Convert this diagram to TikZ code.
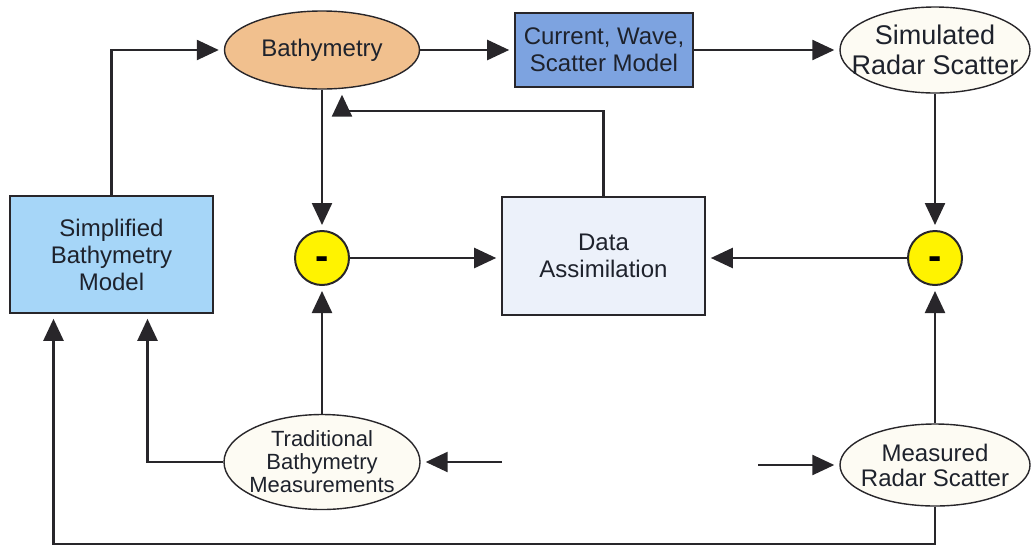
\documentclass[tikz,border=0pt]{standalone}
\usepackage{fontspec}
\setmainfont{Liberation Sans}
\usepackage{tikz}
\usetikzlibrary{positioning, arrows.meta, shapes.geometric, calc}
\definecolor{linec}{RGB}{40,38,42}
\definecolor{textc}{RGB}{30,34,44}
\definecolor{bathyorange}{RGB}{241,192,142}
\definecolor{cwsblue}{RGB}{125,163,224}
\definecolor{simpblue}{RGB}{166,214,248}
\definecolor{dablue}{RGB}{236,241,250}
\definecolor{ovalwhite}{RGB}{253,251,243}
\definecolor{minusyellow}{RGB}{255,243,0}

\begin{document}
\begin{tikzpicture}[x=1pt, y=-1pt,
    txt/.style={font=\fontsize{24}{27}\selectfont, align=center, text=textc},
    blk/.style={txt, draw=linec, line width=1.6pt, inner sep=0pt},
    oval/.style={txt, ellipse, draw=linec, line width=1.4pt, inner sep=-25pt, fill=ovalwhite},
    minus/.style={circle, draw=linec, line width=2pt, fill=minusyellow, minimum size=54pt, inner sep=0pt,
        text height=22pt, text depth=0pt, font=\fontsize{40}{40}\selectfont\bfseries},
    flow/.style={draw=linec, line width=2.4pt, -{Triangle[length=22pt, width=20pt]}, shorten >=5pt},
    wire/.style={draw=linec, line width=2.4pt}]
    \useasboundingbox (0,0) rectangle (1032,547);

    \node[blk, fill=simpblue, minimum width=203pt, minimum height=117pt] (simp) at (111.5,254.5) {Simplified\\Bathymetry\\Model};
    \node[oval, fill=bathyorange, minimum width=195pt, minimum height=78pt] (bathy) at (322,50) {Bathymetry};
    \node[blk, fill=cwsblue, minimum width=178pt, minimum height=74pt] (cws) at (604,50) {Current, Wave,\\Scatter Model};
    \node[oval, minimum width=190pt, minimum height=86pt, font=\fontsize{27}{30}\selectfont] (simrad) at (935,50) {Simulated\\Radar Scatter};
    \node[minus] (minusL) at (322,258) {-};
    \node[blk, fill=dablue, minimum width=203pt, minimum height=118pt] (da) at (603.5,256) {Data\\Assimilation};
    \node[minus] (minusR) at (935,258) {-};
    \node[oval, minimum width=196pt, minimum height=95pt, font=\fontsize{22}{23}\selectfont] (trad) at (322,462) {Traditional\\Bathymetry\\Measurements};
    \node[oval, minimum width=190pt, minimum height=82pt, font=\fontsize{24}{25}\selectfont] (meas) at (935,465) {Measured\\Radar Scatter};
    \coordinate (tradin) at (502,462);
    \coordinate (measin) at (758,465);

    \draw[flow] (simp.north) |- (bathy.west);
    \draw[flow] (bathy.east) -- (cws.west);
    \draw[flow] (cws.east) -- (simrad.west);
    \draw[flow] (bathy.south) -- (minusL.north);
    \draw[flow] (da.north) -- ++(0,-85) -| ([xshift=20pt]bathy.south);
    \draw[flow] (minusL.east) -- (minusL.east -| da.west);
    \draw[flow] (simrad.south) -- (minusR.north);
    \draw[flow] (minusR.west) -- (minusR.west -| da.east);
    \draw[flow] (trad.north) -- (minusL.south);
    \draw[flow] (meas.north) -- (minusR.south);
    \draw[flow] (trad.west) -| ([xshift=36pt]simp.south);
    \draw[flow] (tradin) -- (trad.east);
    \draw[flow] (measin) -- (meas.west);
    \draw[flow] (meas.south) -- ++(0,37) -| ([xshift=-58pt]simp.south);
\end{tikzpicture}
\end{document}
